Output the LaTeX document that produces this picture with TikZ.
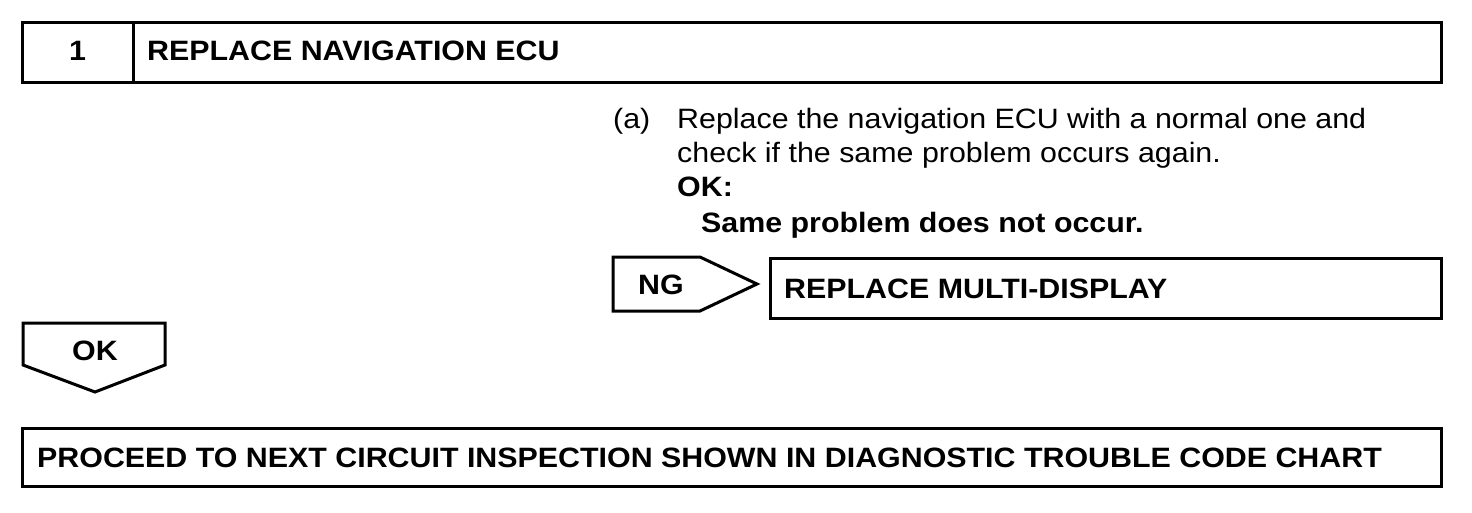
\documentclass[tikz,border=0pt]{standalone}
\usepackage{fontspec}
\setmainfont{Liberation Sans}[FakeStretch=1.085]
\usetikzlibrary{positioning}

\begin{document}
\begin{tikzpicture}[x=1pt, y=-1pt,
    framebox/.style={draw, line width=3pt, rectangle, inner sep=0pt, outer sep=0pt},
    tagshape/.style={draw, line width=3pt, line join=miter},
    caption/.style={font=\fontsize{28}{34}\selectfont\bfseries, anchor=base west, inner sep=0pt},
    bodytext/.style={font=\fontsize{28}{34}\selectfont, anchor=base west, inner sep=0pt}
]
\useasboundingbox (0,0) rectangle (1472,512);

% Step header
\node[framebox, minimum width=111, minimum height=60] (stepnum) at (77.5,52) {};
\node[framebox, minimum width=1308, minimum height=60, anchor=west] (stepbar) at (stepnum.east) {};
\node[caption, anchor=base] (numtext) at (77.5,60) {1};
\node[caption] (titletext) at (147,60) {REPLACE NAVIGATION ECU};

% Instructions
\node[bodytext] (itema) at (613,128) {(a)};
\node[bodytext] (line1) at (677,128) {Replace the navigation ECU with a normal one and};
\node[bodytext] (line2) at (677,162) {check if the same problem occurs again.};
\node[caption] (oklabel) at (677,196) {OK:};
\node[caption] (okline) at (701,232) {Same problem does not occur.};

% NG branch
\draw[tagshape] (613,257) -- (700,257) -- (757,284) -- (700,311) -- (613,311) -- cycle;
\node[caption, anchor=base] (ngtext) at (661,294) {NG};
\node[framebox, minimum width=671, minimum height=60, anchor=north west] (ngbox) at (770,258) {};
\node[caption] (ngaction) at (784,298) {REPLACE MULTI-DISPLAY};

% OK branch
\draw[tagshape] (23,323) -- (165,323) -- (165,365) -- (95,392) -- (23,365) -- cycle;
\node[caption, anchor=base] (oktext) at (95,360) {OK};
\node[framebox, minimum width=1419, minimum height=58, anchor=north west] (okbox) at (22,428) {};
\node[caption] (okaction) at (37,467) {PROCEED TO NEXT CIRCUIT INSPECTION SHOWN IN DIAGNOSTIC TROUBLE CODE CHART};

\end{tikzpicture}
\end{document}
